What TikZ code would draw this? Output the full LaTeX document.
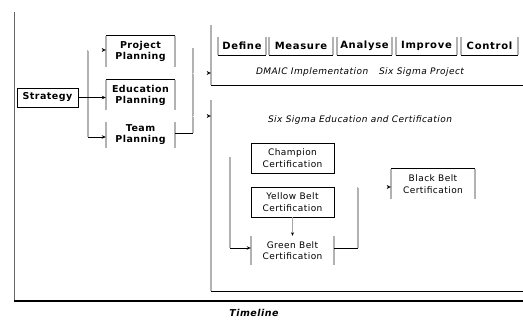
\documentclass[tikz,border=0pt]{standalone}
\usepackage{fontspec}
\setmainfont{DejaVu Sans}
\newfontfamily\wideA[LetterSpace=5]{DejaVu Sans}
\newfontfamily\wideB[LetterSpace=7]{DejaVu Sans}
\usetikzlibrary{arrows.meta}
\begin{document}
\begin{tikzpicture}[x=1pt,y=-1pt,
  lbl/.style={inner sep=0pt, align=center, font=\wideA\fontsize{9.5}{11}\selectfont\bfseries},
  phase/.style={inner sep=0pt, align=center, font=\wideB\fontsize{10}{11}\selectfont\bfseries},
  cert/.style={inner sep=0pt, align=center, font=\wideA\fontsize{9}{11.5}\selectfont},
  ital/.style={inner sep=0pt, font=\wideA\fontsize{9}{10}\selectfont\itshape},
  gl/.style={draw=black!30, line width=1.5pt},
  bl/.style={draw=black, line width=0.8pt},
  arr/.style={bl, -{Stealth[length=4pt,width=3.5pt]}},
  tip/.style={draw=white, line width=0.1pt, -{Stealth[length=4pt,width=3.5pt,black]}},
  garr/.style={draw=black!35, line width=0.8pt, -{Stealth[length=3.5pt,width=3pt,black]}},
]
\useasboundingbox (0,0) rectangle (523,320);

% timeline axis
\coordinate (ax0) at (14,12);
\coordinate (ax1) at (14,301);
\coordinate (ax2) at (523,301);
\draw[draw=black!60, line width=0.8pt] (ax0) -- (ax1);
\draw[draw=black, line width=1.3pt] (ax1) -- (ax2);
\node[inner sep=0pt, font=\wideA\fontsize{9.5}{10}\selectfont\bfseries\itshape] (tl) at (254,313) {Timeline};

% planning
\node[lbl, draw=black, line width=0.8pt, minimum width=61pt, minimum height=19pt] (st) at (47.5,97.5) {Strategy};
\node[lbl, minimum width=69pt, minimum height=31pt] (pp) at (140.5,51.5) {Project\\Planning};
\node[lbl, minimum width=69pt, minimum height=30pt] (ep) at (140.5,95) {Education\\Planning};
\node[lbl, minimum width=69pt, minimum height=26pt] (tp) at (140.5,135) {Team\\Planning};
\foreach \n in {pp,ep,tp}{
  \draw[gl] (\n.north west) -- (\n.south west) (\n.north east) -- (\n.south east);
}
\draw[bl] (pp.north west) -- (pp.north east);
\draw[bl] (ep.north west) -- (ep.north east);

\coordinate (lb1) at (88,50);
\coordinate (lb2) at (88,137);
\draw[gl] (lb1) -- (lb2);
\draw[tip] (lb1) -- (lb1 -| pp.west);
\draw[arr] (st.east) -- (st.east -| ep.west);
\draw[arr] (lb2) -- (lb2 -| tp.west);

\coordinate (rb1) at (193,48);
\coordinate (rb2) at (193,133);
\draw[gl] (rb1) -- (rb2);
\draw[bl] (tp.east |- rb2) -- (rb2);
\coordinate (ra1) at (193,73);
\coordinate (ra2) at (193,116);

% DMAIC container
\node[minimum width=312pt, minimum height=60pt, inner sep=0pt] (dm) at (367,55) {};
\draw[gl] (dm.north west) -- (dm.south west);
\draw[bl] (dm.south west) -- (dm.south east);
\draw[tip] (ra1) -- (ra1 -| dm.west);

\node[phase, minimum width=48pt, minimum height=18pt] (def) at (242,46) {Define};
\node[phase, minimum width=64pt, minimum height=18pt] (mea) at (301,46) {Measure};
\node[phase, minimum width=55pt, minimum height=18pt] (ana) at (364.5,46) {Analyse};
\node[phase, minimum width=61pt, minimum height=18pt] (imp) at (426.5,46) {Improve};
\node[phase, minimum width=57pt, minimum height=18pt] (con) at (489.5,46) {Control};
\foreach \n in {def,mea,ana,imp,con}{
  \draw[gl] (\n.north west) -- (\n.south west) (\n.north east) -- (\n.south east);
  \draw[bl] (\n.south west) -- (\n.south east);
}
\node[ital] (dmt) at (360,72) {DMAIC Implementation\hspace{1.2em}Six Sigma Project};

% education container
\node[minimum width=312pt, minimum height=191pt, inner sep=0pt] (ed) at (367,195.5) {};
\draw[gl] (ed.north west) -- (ed.south west);
\draw[bl] (ed.south west) -- (ed.south east);
\draw[tip] (ra2) -- (ra2 -| ed.west);
\node[ital] (edt) at (360,120) {Six Sigma Education and Certification};

\node[cert, draw=black, line width=0.6pt, minimum width=83pt, minimum height=30pt] (ch) at (292.5,158) {Champion\\Certification};
\node[cert, draw=black, line width=0.6pt, minimum width=83pt, minimum height=30pt] (yb) at (292.5,202) {Yellow Belt\\Certification};
\node[cert, minimum width=83pt, minimum height=29pt] (gb) at (292.5,250.5) {Green Belt\\Certification};
\draw[gl] (gb.north west) -- (gb.south west) (gb.north east) -- (gb.south east);
\node[cert, minimum width=84pt, minimum height=30pt] (bb) at (433,184) {Black Belt\\Certification};
\draw[gl] (bb.north west) -- (bb.south west) (bb.north east) -- (bb.south east);
\draw[bl] (bb.north west) -- (bb.north east);

\draw[garr] (yb.south) -- (gb.north);
\coordinate (cb1) at (230,157);
\coordinate (cb2) at (230,248);
\draw[gl] (cb1) -- (cb2);
\draw[arr] (cb2) -- (cb2 -| gb.west);
\coordinate (cr1) at (358,187);
\coordinate (cr2) at (358,248);
\draw[bl] (gb.east |- cr2) -- (cr2);
\draw[gl] (cr1) -- (cr2);
\draw[tip] (cr1) -- (cr1 -| bb.west);
\end{tikzpicture}
\end{document}
